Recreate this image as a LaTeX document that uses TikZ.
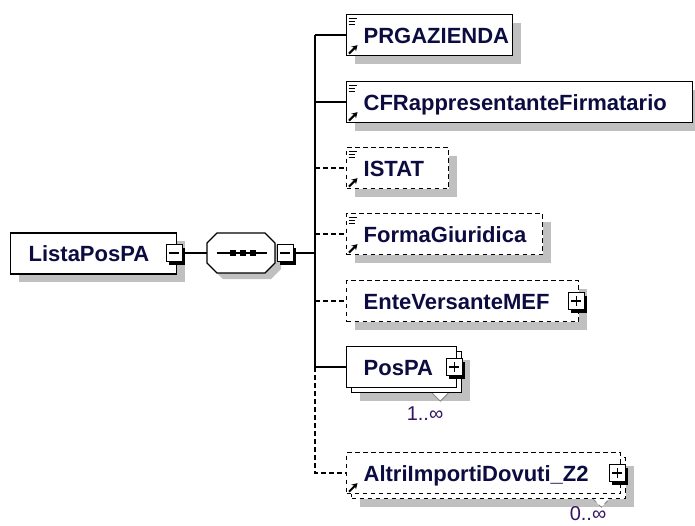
\documentclass[tikz,border=0pt]{standalone}
\usepackage{fontspec}
\setmainfont{Liberation Sans}
\usetikzlibrary{shadows,backgrounds,arrows.meta}
\definecolor{sgray}{RGB}{192,192,192}
\definecolor{navytxt}{RGB}{12,12,64}
\definecolor{multc}{RGB}{50,20,100}
\newcommand{\xsdlines}[1]{%
 \draw[line width=1pt] ([shift={(2.5pt,-4.5pt)}]#1.north west) -- ++(8.5,0);
 \draw[line width=1pt] ([shift={(2.5pt,-7.5pt)}]#1.north west) -- ++(6.5,0);
 \draw[line width=1pt] ([shift={(2.5pt,-10.5pt)}]#1.north west) -- ++(6.5,0);}
\newcommand{\xsdref}[1]{%
 \draw[line width=2pt, -{Stealth[length=5.5pt,width=6.5pt]}] ([shift={(3pt,2.5pt)}]#1.south west) -- ++(8.5,-8.5);}
\newcommand{\xsdminus}[1]{%
 \draw[line width=1.2pt] ([xshift=-5pt]#1.center) -- ([xshift=5pt]#1.center);}
\newcommand{\xsdplus}[1]{%
 \draw[line width=1.2pt] ([xshift=-5pt]#1.center) -- ([xshift=5pt]#1.center);
 \draw[line width=1.2pt] ([yshift=-5pt]#1.center) -- ([yshift=5pt]#1.center);}
\tikzset{
 elem/.style={draw=black, line width=1.3pt, fill=white, minimum height=41pt,
   inner ysep=0pt, inner xsep=17pt, align=left, text height=16pt, text depth=0pt,
   font=\fontsize{22}{24}\selectfont\bfseries, text=navytxt, anchor=west},
 shad/.style={drop shadow={shadow xshift=8pt, shadow yshift=-8pt, fill=sgray, opacity=1}},
 optional/.style={dash pattern=on 4.5pt off 3.5pt},
 conn/.style={line width=1.5pt, draw=black},
 pm/.style={draw=black, line width=1pt, fill=white, minimum width=16pt, minimum height=17pt,
   inner sep=0pt, drop shadow={shadow xshift=3pt, shadow yshift=-3pt, fill=black, opacity=1}},
 mult/.style={font=\fontsize{20}{22}\selectfont, text=multc, inner sep=0pt, anchor=base},
 notchline/.style={draw=gray, line width=0.8pt},
}
\begin{document}
\begin{tikzpicture}[x=1pt, y=-1pt]
\useasboundingbox (0,0) rectangle (695,525);

% root element
\node[elem, shad, inner xsep=18pt, text width=130pt] (root) at (10,253.5) {ListaPosPA};
\node[pm] (rmin) at (174,253) {};
\xsdminus{rmin}

% sequence compositor
\node[minimum width=68pt, minimum height=40pt, inner sep=0pt] (seq) at (241,253) {};
\fill[sgray] (223,239) -- (271,239) -- (281,249) -- (281,269) -- (271,279) -- (223,279) -- (213,269) -- (213,249) -- cycle;
\draw[line width=1.1pt, fill=white] (217,233) -- (265,233) -- (275,243) -- (275,263) -- (265,273) -- (217,273) -- (207,263) -- (207,243) -- cycle;
\draw[line width=1.3pt] (217,253) -- (267,253);
\fill (229.5,250) rectangle +(6,6);
\fill (239.5,250) rectangle +(6,6);
\fill (249.5,250) rectangle +(6,6);
\node[pm] (smin) at (285,253) {};
\xsdminus{smin}

% children
\node[elem, shad, text width=132pt] (b1) at (346,35) {PRGAZIENDA};
\node[elem, shad, text width=312pt] (b2) at (346,102) {CFRappresentanteFirmatario};
\node[elem, shad, optional, text width=68pt] (b3) at (346,168) {ISTAT};
\node[elem, shad, optional, text width=162pt] (b4) at (346,234) {FormaGiuridica};
\node[elem, shad, optional, text width=198pt] (b5) at (346,301) {EnteVersanteMEF};
\node[elem, shad, minimum width=110pt] (b6b) at (351,372) {};
\node[elem, text width=76pt] (b6) at (346,367) {PosPA};
\node[elem, shad, optional, minimum width=274pt] (b7b) at (351,478) {};
\node[elem, optional, text width=240pt] (b7) at (346,473) {AltriImportiDovuti\_Z2};

% icons
\xsdlines{b1}\xsdref{b1}
\xsdlines{b2}\xsdref{b2}
\xsdlines{b3}\xsdref{b3}
\xsdlines{b4}\xsdref{b4}
\xsdref{b7}

% expand boxes
\node[pm] (p5) at ([xshift=-3pt]b5.east) {};
\xsdplus{p5}
\node[pm] (p6) at ([xshift=-3pt]b6.east) {};
\xsdplus{p6}
\node[pm] (p7) at ([xshift=-4pt]b7.east) {};
\xsdplus{p7}

% multiplicity notches
\fill[white] ([xshift=-30pt]b6b.south east) -- ([shift={(-22pt,-8pt)}]b6b.south east) -- ([xshift=-14pt]b6b.south east) -- cycle;
\draw[notchline] ([xshift=-30pt]b6b.south east) -- ([shift={(-22pt,-8pt)}]b6b.south east) -- ([xshift=-14pt]b6b.south east);
\fill[white] ([xshift=-33pt]b7b.south east) -- ([shift={(-25pt,-8pt)}]b7b.south east) -- ([xshift=-17pt]b7b.south east) -- cycle;
\draw[notchline, optional] ([xshift=-33pt]b7b.south east) -- ([shift={(-25pt,-8pt)}]b7b.south east) -- ([xshift=-17pt]b7b.south east);
\node[mult] (m6) at (425,420) {1..∞};
\node[mult] (m7) at (588,520) {0..∞};

% connectors
\coordinate (tA) at (315,35);
\coordinate (tF) at (315,367);
\coordinate (tG) at (315,473);
\begin{scope}[on background layer]
\draw[conn] (rmin.east) -- (seq.west);
\draw[conn] (smin.east) -- (smin.east -| tA);
\draw[conn] (tA) -- (tF);
\draw[conn] (tA) -- (b1.west);
\draw[conn] (b2.west -| tA) -- (b2.west);
\draw[conn, optional] (b3.west -| tA) -- (b3.west);
\draw[conn, optional] (b4.west -| tA) -- (b4.west);
\draw[conn, optional] (b5.west -| tA) -- (b5.west);
\draw[conn] (tF) -- (b6.west);
\draw[conn, optional] (tF) -- (tG) -- (b7.west);
\end{scope}
\end{tikzpicture}
\end{document}
